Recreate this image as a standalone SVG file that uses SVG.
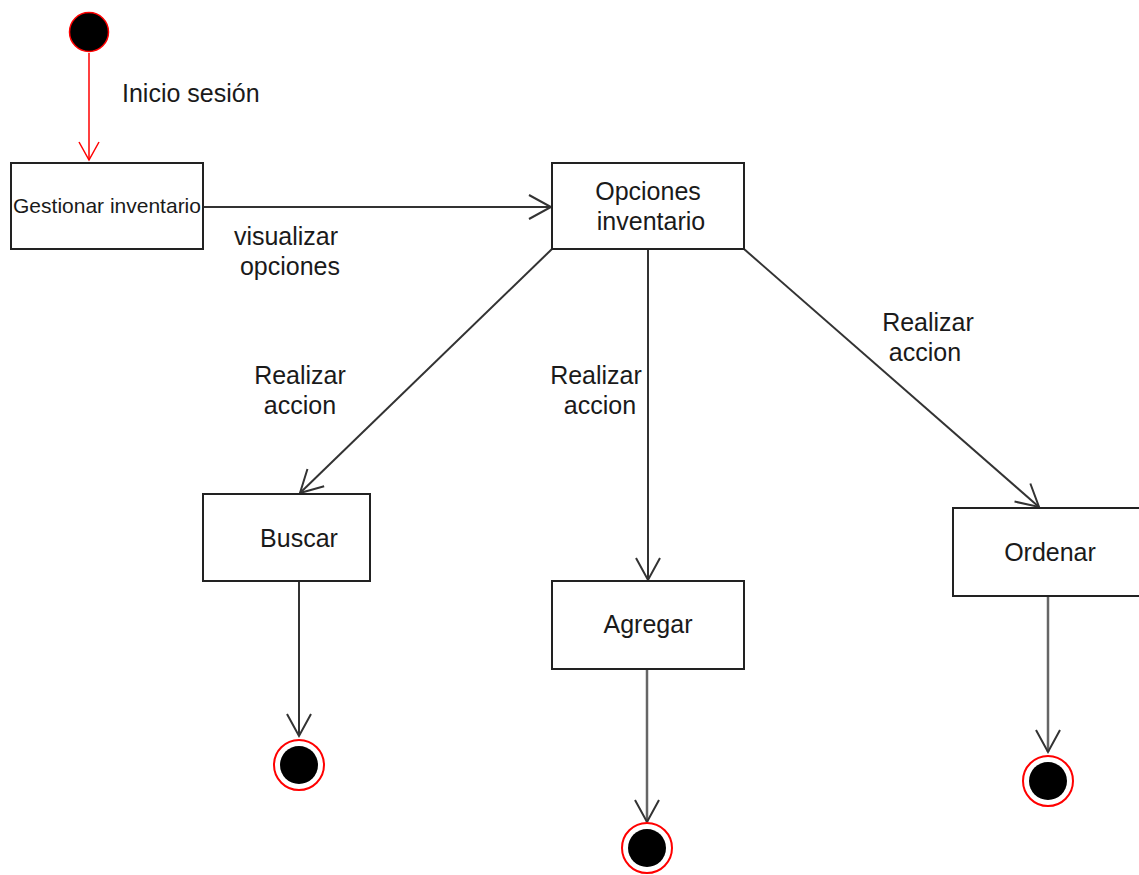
<svg xmlns="http://www.w3.org/2000/svg" width="1139" height="875" viewBox="0 0 1139 875">
  <style>
    .state { fill: #ffffff; stroke: #222222; stroke-width: 2; }
    .lbl { font-family: "Liberation Sans", Arial, sans-serif; font-size: 25px; fill: #1a1a1a; }
    .edge { fill: none; stroke: #333333; stroke-width: 2; }
    .edge-end { fill: none; stroke: #666666; stroke-width: 2.5; }
    .edge-start { fill: none; stroke: #ff0000; stroke-width: 1.5; }
    .final-ring { fill: #ffffff; stroke: #ff0000; stroke-width: 2; }
  </style>
  <defs>
    <marker id="arrow" markerUnits="userSpaceOnUse" markerWidth="30" markerHeight="30" viewBox="-24 -15 28 30" refX="0" refY="0" orient="auto">
      <path d="M -22 -12 L 0 0 L -22 12" fill="none" stroke="#333333" stroke-width="2"/>
    </marker>
    <marker id="arrow-red" markerUnits="userSpaceOnUse" markerWidth="30" markerHeight="30" viewBox="-24 -15 28 30" refX="0" refY="0" orient="auto">
      <path d="M -18 -10 L 0 0 L -18 10" fill="none" stroke="#ff0000" stroke-width="1.5"/>
    </marker>
  </defs>

  <rect width="1139" height="875" fill="#ffffff"/>

  <!-- connectors -->
  <g id="connectors">
    <line class="edge-start" x1="89" y1="53" x2="89" y2="160" marker-end="url(#arrow-red)"/>
    <line class="edge" x1="203" y1="207" x2="551" y2="207" marker-end="url(#arrow)"/>
    <line class="edge" x1="552" y1="249" x2="300" y2="493" marker-end="url(#arrow)"/>
    <line class="edge" x1="648" y1="249" x2="648" y2="580" marker-end="url(#arrow)"/>
    <line class="edge" x1="744" y1="249" x2="1039" y2="507" marker-end="url(#arrow)"/>
    <line class="edge" x1="299" y1="582" x2="299" y2="736" marker-end="url(#arrow)"/>
    <line class="edge-end" x1="647" y1="669" x2="647" y2="822" marker-end="url(#arrow)"/>
    <line class="edge-end" x1="1048" y1="596" x2="1048" y2="752" marker-end="url(#arrow)"/>

    <text class="lbl" x="122" y="102">Inicio sesión</text>
    <text class="lbl" x="286" y="245" text-anchor="middle">visualizar</text>
    <text class="lbl" x="290" y="275" text-anchor="middle">opciones</text>
    <text class="lbl" x="300" y="384" text-anchor="middle">Realizar</text>
    <text class="lbl" x="300" y="414" text-anchor="middle">accion</text>
    <text class="lbl" x="596" y="384" text-anchor="middle">Realizar</text>
    <text class="lbl" x="600" y="414" text-anchor="middle">accion</text>
    <text class="lbl" x="928" y="331" text-anchor="middle">Realizar</text>
    <text class="lbl" x="925" y="361" text-anchor="middle">accion</text>
  </g>

  <!-- initial state -->
  <g id="start">
    <circle cx="89" cy="32" r="19.5" fill="#000000" stroke="#ff0000" stroke-width="1.5"/>
  </g>

  <g id="gestionar">
    <rect class="state" x="11" y="163" width="192" height="86"/>
    <text class="lbl" x="107" y="213" text-anchor="middle" style="font-size:21px">Gestionar inventario</text>
  </g>

  <g id="opciones">
    <rect class="state" x="552" y="163" width="192" height="86"/>
    <text class="lbl" x="648" y="200" text-anchor="middle">Opciones</text>
    <text class="lbl" x="651" y="230" text-anchor="middle">inventario</text>
  </g>

  <g id="buscar">
    <rect class="state" x="203" y="494" width="167" height="87"/>
    <text class="lbl" x="299" y="547" text-anchor="middle">Buscar</text>
  </g>

  <g id="agregar">
    <rect class="state" x="552" y="581" width="192" height="88"/>
    <text class="lbl" x="648" y="633" text-anchor="middle">Agregar</text>
  </g>

  <g id="ordenar">
    <rect class="state" x="953" y="508" width="200" height="88"/>
    <text class="lbl" x="1050" y="561" text-anchor="middle">Ordenar</text>
  </g>

  <!-- final states -->
  <g id="fin-buscar">
    <circle class="final-ring" cx="299" cy="765" r="25"/>
    <circle cx="299" cy="765" r="19" fill="#000000"/>
  </g>
  <g id="fin-agregar">
    <circle class="final-ring" cx="647" cy="848" r="25"/>
    <circle cx="647" cy="848" r="19" fill="#000000"/>
  </g>
  <g id="fin-ordenar">
    <circle class="final-ring" cx="1048" cy="781" r="25"/>
    <circle cx="1048" cy="781" r="19" fill="#000000"/>
  </g>
</svg>
